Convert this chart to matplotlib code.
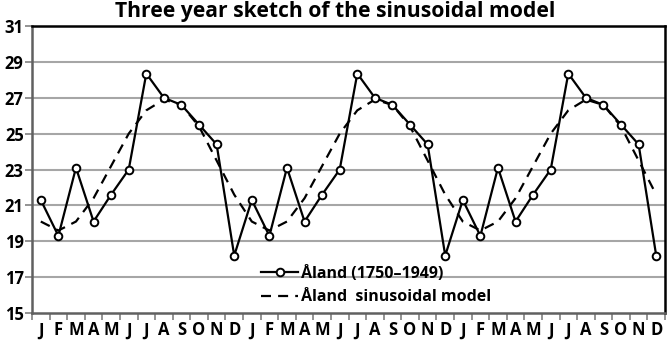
import matplotlib
matplotlib.use("Agg")
import matplotlib.pyplot as plt
import numpy as np

months = ["J", "F", "M", "A", "M", "J", "J", "A", "S", "O", "N", "D"]
n_years = 3
observed = [21.3, 19.3, 23.1, 20.1, 21.6, 23.0, 28.35, 27.0, 26.6, 25.5, 24.4, 18.2]
model = [20.1, 19.6, 20.1, 21.4, 23.2, 25.0, 26.3, 26.9, 26.6, 25.4, 23.5, 21.6]
yticks = [15, 17, 19, 21, 23, 25, 27, 29, 31]
title = "Three year sketch of the sinusoidal model"
label_obs = "Åland (1750–1949)"
label_model = "Åland  sinusoidal model"

plt.rcParams['font.family'] = ['Open Sans', 'DejaVu Sans']

fig = plt.figure(figsize=(6.67, 3.40), dpi=100)
ax = fig.add_axes([0.048, 0.0794, 0.949, 0.844])

labels = months * n_years
obs_all = observed * n_years
mod_all = model * n_years
x = np.arange(len(labels))

for yv in yticks[1:-1]:
    ax.axhline(yv, color="#a6a6a6", lw=1.5, zorder=0)

ax.plot(x, mod_all, color="black", lw=1.6, ls=(0, (4.5, 3.2)), label=label_model, zorder=2)
ax.plot(x, obs_all, color="black", lw=1.6, marker="o", ms=5.5, mfc="white",
        mec="black", mew=1.4, label=label_obs, zorder=3)

ax.set_xlim(-0.5, len(labels) - 0.5)
ax.set_ylim(15, 31)
ax.set_yticks(yticks)
ax.set_yticklabels([str(v) for v in yticks], fontsize=12, fontweight="bold")
ax.set_xticks(x)
ax.set_xticklabels(labels, fontsize=12, fontweight="bold")
ax.tick_params(axis="x", which="major", length=0, pad=6)
ax.set_xticks(np.arange(-0.5, len(labels), 1.0), minor=True)
ax.tick_params(axis="x", which="minor", length=5, width=1.2, color="#808080", direction="out")
ax.tick_params(axis="y", length=5, width=1.2, color="#808080", pad=1)

for s in ["top", "right"]:
    ax.spines[s].set_color("black")
    ax.spines[s].set_linewidth(1.8)
for s in ["left", "bottom"]:
    ax.spines[s].set_color("#606060")
    ax.spines[s].set_linewidth(1.8)

fig.text(0.503, 0.997, title, fontsize=15.2, fontweight="bold", ha="center", va="top")

handles, lbls = ax.get_legend_handles_labels()
leg = ax.legend(handles[::-1], lbls[::-1], loc="lower left", bbox_to_anchor=(0.352, 0.005),
                frameon=False, prop={"weight": "bold", "size": 11.5}, handlelength=2.3,
                handletextpad=0.2, labelspacing=0.45, borderaxespad=0)

fig.savefig("out.png", dpi=100)
